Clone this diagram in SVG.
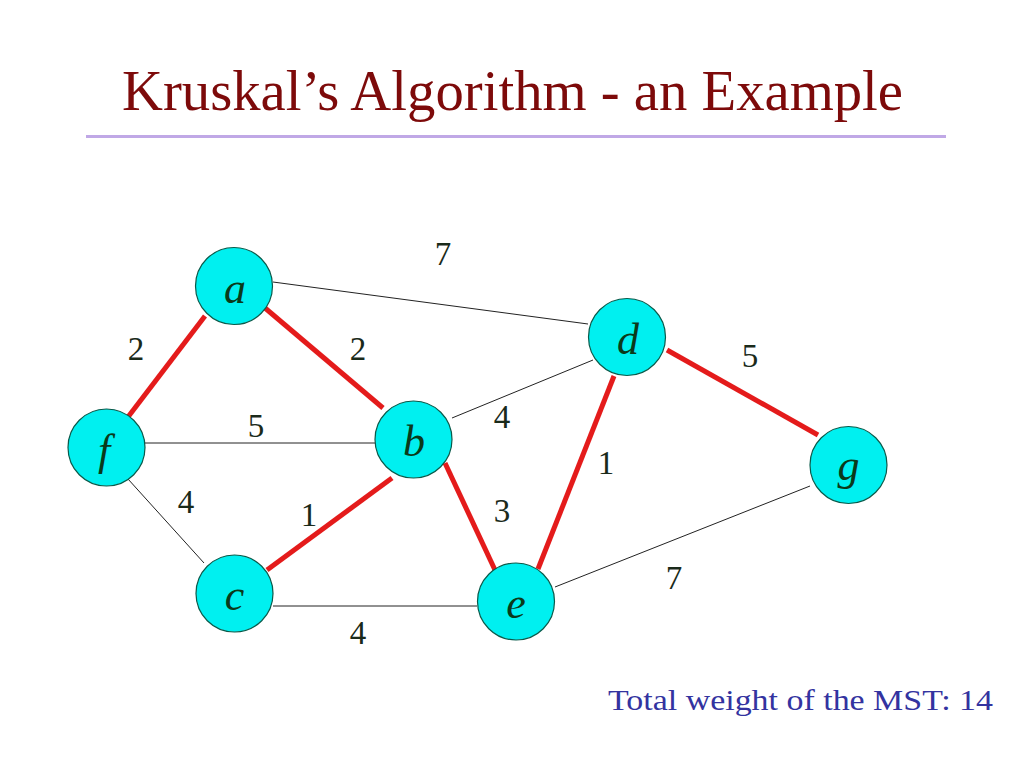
<svg xmlns="http://www.w3.org/2000/svg" width="1024" height="768" viewBox="0 0 1024 768">
<style>
.thin{stroke:#222;stroke-width:1;fill:none}
.mst{stroke:#e41b1b;stroke-width:5;fill:none}
.node circle{fill:#00f0f0;stroke:#0a5a4a;stroke-width:1.2}
</style>
<rect width="1024" height="768" fill="#ffffff"/>
<text x="122" y="110" font-family="'Liberation Serif',serif" font-size="56" fill="#7d0a0a" textLength="781" lengthAdjust="spacingAndGlyphs">Kruskal’s Algorithm - an Example</text>
<line x1="86" y1="136.5" x2="946" y2="136.5" stroke="#c0a8e6" stroke-width="3"/>
<g id="connectors">
<line class="thin" x1="273" y1="282" x2="588" y2="324"/>
<line class="thin" x1="145" y1="443" x2="375" y2="443"/>
<line class="thin" x1="128" y1="479" x2="204" y2="563"/>
<line class="thin" x1="273" y1="606" x2="477" y2="606"/>
<line class="thin" x1="452" y1="418" x2="593" y2="360"/>
<line class="thin" x1="555" y1="587" x2="810" y2="486"/>
<line class="mst" x1="205" y1="316" x2="128" y2="417"/>
<line class="mst" x1="265" y1="308" x2="383" y2="408"/>
<line class="mst" x1="267" y1="570" x2="392" y2="478"/>
<line class="mst" x1="445" y1="463" x2="495" y2="570"/>
<line class="mst" x1="614" y1="376" x2="538" y2="569"/>
<line class="mst" x1="667" y1="350" x2="818" y2="435"/>
</g>
<g id="weights" font-family="'Liberation Serif',serif" font-size="33" fill="#1a2a1a" text-anchor="middle">
<text x="443" y="265">7</text>
<text x="136" y="360">2</text>
<text x="358" y="360">2</text>
<text x="256" y="437">5</text>
<text x="502" y="428">4</text>
<text x="186" y="513">4</text>
<text x="309" y="526">1</text>
<text x="502" y="522">3</text>
<text x="606" y="474">1</text>
<text x="750" y="367">5</text>
<text x="674" y="589">7</text>
<text x="358" y="644">4</text>
</g>
<g font-family="'Liberation Serif',serif" font-style="italic" font-size="44" fill="#0a3a1a" text-anchor="middle">
<g id="node-a" class="node"><circle cx="234" cy="286" r="38.5"/><text x="235" y="303">a</text></g>
<g id="node-f" class="node"><circle cx="106.5" cy="447.5" r="38.5"/><text x="104" y="465">f</text></g>
<g id="node-b" class="node"><circle cx="413.5" cy="439.5" r="38.5"/><text x="414" y="456">b</text></g>
<g id="node-c" class="node"><circle cx="234.5" cy="593.5" r="38.5"/><text x="234.5" y="610">c</text></g>
<g id="node-d" class="node"><circle cx="627" cy="337" r="38.5"/><text x="628" y="354">d</text></g>
<g id="node-e" class="node"><circle cx="516" cy="601.5" r="38.5"/><text x="516" y="618">e</text></g>
<g id="node-g" class="node"><circle cx="848.5" cy="465" r="38.5"/><text x="848.5" y="480">g</text></g>
</g>
<text x="608" y="710" font-family="'Liberation Serif',serif" font-size="30" fill="#3333a0" textLength="385" lengthAdjust="spacingAndGlyphs">Total weight of the MST: 14</text>
</svg>
